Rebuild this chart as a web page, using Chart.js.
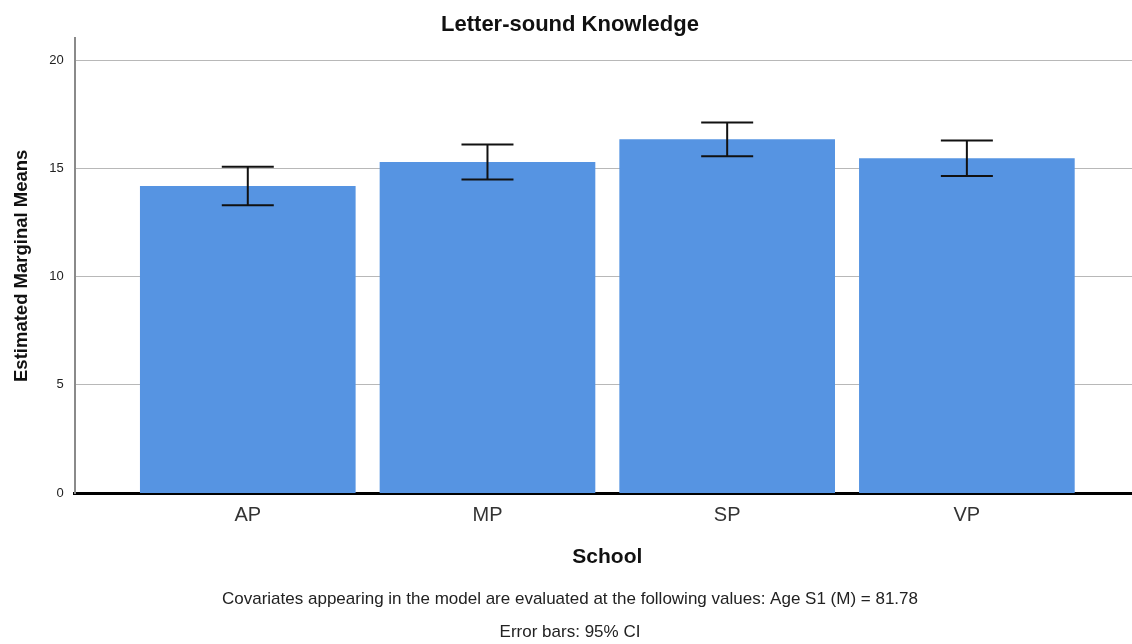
<!DOCTYPE html>
<html>
<head>
<meta charset="utf-8">
<script src="https://cdn.jsdelivr.net/npm/chart.js@4.4.1/dist/chart.umd.min.js"></script>
<style>
  html, body { margin: 0; padding: 0; background: #fff; overflow: hidden; }
  #wrap { width: 1140px; height: 650px; }
</style>
</head>
<body>
<div id="wrap"><canvas id="emmChart" width="1140" height="650"></canvas></div>
<script>
const schools = ['AP', 'MP', 'SP', 'VP'];
const means = [14.17, 15.28, 16.33, 15.45];
const ciLower = [13.30, 14.48, 15.56, 14.65];
const ciUpper = [15.07, 16.10, 17.12, 16.29];
const yTicks = [0, 5, 10, 15, 20];
const footnotes = [
    'Covariates appearing in the model are evaluated at the following values: Age S1 (M) = 81.78',
    'Error bars: 95% CI'
];

const FONT = "'Liberation Sans', Arial, sans-serif";

// whiskers for the 95% CI, placed with the chart's own scales
const errorBars = {
    id: 'errorBars',
    afterDatasetsDraw(chart) {
        const { ctx, scales: { x, y } } = chart;
        ctx.save();
        ctx.strokeStyle = '#111';
        ctx.lineWidth = 2;
        schools.forEach((s, i) => {
            const cx = x.getPixelForValue(i);
            const top = y.getPixelForValue(ciUpper[i]);
            const bot = y.getPixelForValue(ciLower[i]);
            ctx.beginPath();
            ctx.moveTo(cx, top); ctx.lineTo(cx, bot);
            ctx.moveTo(cx - 26, top); ctx.lineTo(cx + 26, top);
            ctx.moveTo(cx - 26, bot); ctx.lineTo(cx + 26, bot);
            ctx.stroke();
        });
        ctx.restore();
    }
};

new Chart(document.getElementById('emmChart'), {
    type: 'bar',
    data: {
        datasets: [{
            data: schools.map((s, i) => ({ x: i, y: means[i] })),
            backgroundColor: '#5694e2',
            barThickness: 215
        }]
    },
    options: {
        responsive: false,
        animation: false,
        layout: { padding: 0 },
        plugins: {
            legend: { display: false },
            tooltip: { enabled: false },
            title: {
                display: true,
                text: 'Letter-sound Knowledge',
                color: '#111',
                font: { family: FONT, size: 22, weight: 'bold' },
                padding: { top: 12, bottom: 0 }
            },
            subtitle: {
                display: true,
                position: 'bottom',
                text: footnotes,
                color: '#222',
                font: { family: FONT, size: 17, lineHeight: 1.9 },
                padding: { top: 14, bottom: 2 }
            }
        },
        scales: {
            x: {
                type: 'linear',
                min: -0.7223,
                max: 3.7223,
                offset: false,
                afterBuildTicks: (scale) => {
                    scale.ticks = schools.map((s, i) => ({ value: i }));
                },
                grid: { display: false, drawTicks: false },
                border: { display: true, color: '#000', width: 3 },
                ticks: {
                    callback: (v) => schools[v],
                    color: '#333',
                    padding: 10,
                    maxRotation: 0,
                    font: { family: FONT, size: 20 }
                },
                title: {
                    display: true,
                    text: 'School',
                    color: '#111',
                    font: { family: FONT, size: 21, weight: 'bold' },
                    padding: { top: 7, bottom: 0 }
                }
            },
            y: {
                min: 0,
                max: 21,
                afterBuildTicks: (scale) => {
                    scale.ticks = yTicks.map(v => ({ value: v }));
                },
                grid: { color: '#b8b8b8', lineWidth: 1, drawTicks: false },
                border: { display: true, color: '#8a8a8a', width: 2 },
                ticks: {
                    color: '#222',
                    padding: 11,
                    font: { family: FONT, size: 13 }
                },
                title: {
                    display: true,
                    text: 'Estimated Marginal Means',
                    color: '#111',
                    font: { family: FONT, size: 18.5, weight: 'bold' },
                    padding: { top: 11, bottom: 5 }
                }
            }
        }
    },
    plugins: [errorBars]
});
</script>
</body>
</html>
